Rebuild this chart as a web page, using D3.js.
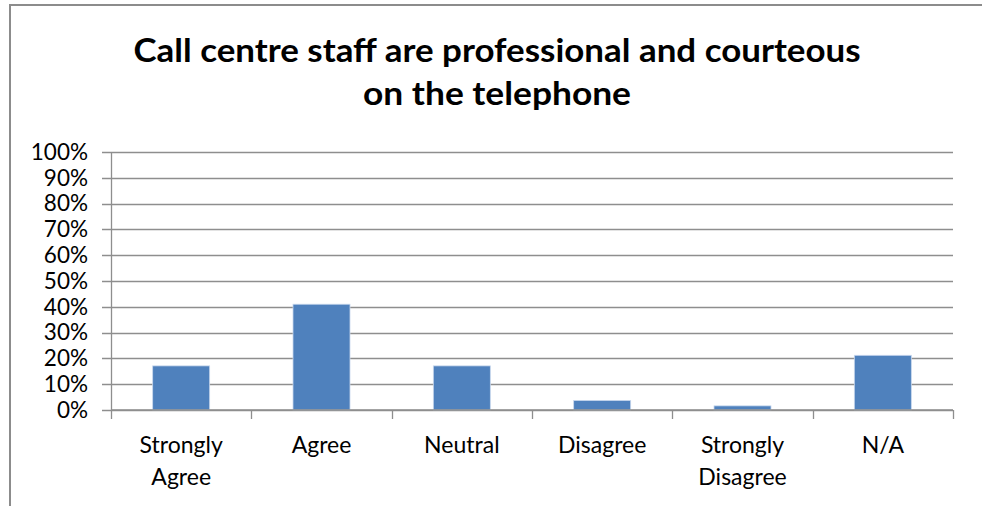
<!DOCTYPE html>
<html>
<head>
<meta charset="utf-8">
<script src="https://cdn.jsdelivr.net/npm/d3@7"></script>
<style>
  body { margin: 0; background: #fff; }
  svg { display: block; }
  text { font-family: Lato, "Open Sans", sans-serif; fill: #000; }
</style>
</head>
<body>
<div id="chart"></div>
<script>
// data
var categories = ["Strongly Agree", "Agree", "Neutral", "Disagree", "Strongly Disagree", "N/A"]
var values = [0.171, 0.41, 0.171, 0.037, 0.016, 0.212]
var yTicks = [0, 0.1, 0.2, 0.3, 0.4, 0.5, 0.6, 0.7, 0.8, 0.9, 1]
var titleLines = ["Call centre staff are professional and courteous", "on the telephone"]

var W = 982, H = 506
var margin = {top: 152, right: 29, bottom: 96, left: 111}
var width = W - margin.left - margin.right,
    height = H - margin.top - margin.bottom

var svg = d3.select("#chart").append("svg")
    .attr("width", W)
    .attr("height", H)

// chart frame (only top and left edges visible)
svg.append("line").attr("x1", 10).attr("x2", W).attr("y1", 5).attr("y2", 5)
    .attr("stroke", "#8c8c8c").attr("stroke-width", 2)
svg.append("line").attr("x1", 10).attr("x2", 10).attr("y1", 4).attr("y2", H)
    .attr("stroke", "#8c8c8c").attr("stroke-width", 2)

// title
var titleWidths = [727, 268]
svg.selectAll(".title")
  .data(titleLines)
  .enter()
  .append("text")
  .attr("class", "title")
  .attr("x", 497)
  .attr("y", function(d, i){ return 62 + i * 43 })
  .attr("text-anchor", "middle")
  .style("font-size", "33px")
  .style("font-weight", "bold")
  .attr("textLength", function(d, i){ return titleWidths[i] })
  .attr("lengthAdjust", "spacingAndGlyphs")
  .text(function(d){ return d })

var g = svg.append("g")
    .attr("transform", "translate(" + margin.left + "," + margin.top + ")")

var xCat = d3.scaleBand().domain(categories).range([0, width])
var y = d3.scaleLinear().domain([0, 1]).range([height, 0])

// gridlines
g.selectAll(".grid")
  .data(yTicks)
  .enter()
  .append("line")
  .attr("class", "grid")
  .attr("x1", -9)
  .attr("x2", width)
  .attr("y1", function(d){ return Math.round(y(d)) + 0.5 })
  .attr("y2", function(d){ return Math.round(y(d)) + 0.5 })
  .attr("stroke", "#8e8e8e")
  .attr("stroke-width", 1.3)

// y axis
var yAxis = g.append("g")
    .call(d3.axisLeft(y).tickValues(yTicks).tickFormat(d3.format(".0%")).tickSize(0).tickPadding(23))
yAxis.select(".domain").attr("stroke", "#8e8e8e").attr("stroke-width", 1.3)
yAxis.selectAll("text").style("font-size", "22.5px").style("font-family", "Lato, sans-serif").attr("fill", "#000")

// bars
g.selectAll(".bar")
  .data(values)
  .enter()
  .append("rect")
  .attr("class", "bar")
  .attr("x", function(d, i){ return xCat(categories[i]) + xCat.bandwidth() / 2 - 28.5 })
  .attr("width", 57)
  .attr("y", function(d){ return y(d) })
  .attr("height", function(d){ return height - y(d) })
  .attr("fill", "#4f81bd")
  .attr("stroke", "#c9d8ee")
  .attr("stroke-width", 0.8)

// x axis
var xAxis = g.append("g")
    .attr("transform", "translate(0," + height + ")")
xAxis.append("line").attr("x1", 0).attr("x2", width).attr("y1", 0).attr("y2", 0)
    .attr("stroke", "#8e8e8e").attr("stroke-width", 1.3)
xAxis.selectAll(".xtick")
  .data(d3.range(categories.length + 1))
  .enter()
  .append("line")
  .attr("class", "xtick")
  .attr("x1", function(d){ return Math.round(d * xCat.step()) + 0.5 })
  .attr("x2", function(d){ return Math.round(d * xCat.step()) + 0.5 })
  .attr("y1", 0)
  .attr("y2", 9)
  .attr("stroke", "#8e8e8e")
  .attr("stroke-width", 1.3)

var labels = xAxis.selectAll(".xlabel")
  .data(categories)
  .enter()
  .append("text")
  .attr("class", "xlabel")
  .attr("text-anchor", "middle")
  .attr("transform", function(d){ return "translate(" + (xCat(d) + xCat.bandwidth() / 2) + ",0)" })
  .style("font-size", "23px")
labels.selectAll("tspan")
  .data(function(d){ return d.split(" ") })
  .enter()
  .append("tspan")
  .attr("x", 0)
  .attr("y", function(d, i){ return 43 + i * 32 })
  .text(function(d){ return d })
</script>
</body>
</html>
